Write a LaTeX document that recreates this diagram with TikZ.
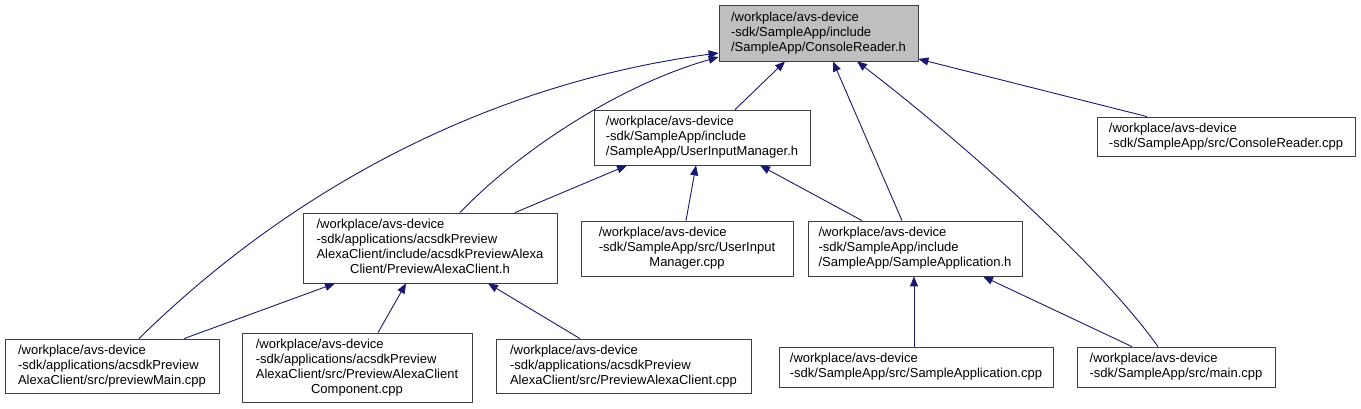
\documentclass[tikz,border=0pt]{standalone}
\usepackage{fontspec}
\setmainfont{Liberation Sans}
\usetikzlibrary{arrows.meta}
\definecolor{edgeblue}{HTML}{191970}
\definecolor{rootgray}{HTML}{BFBFBF}
\newcommand{\dxlines}[1]{\begin{tabular}{@{}l@{}}#1\end{tabular}}
\newcommand{\dxlast}[1]{\multicolumn{1}{@{}c@{}}{#1}}
\begin{document}
\begin{tikzpicture}[x=1pt,y=-1pt,
  box/.style={draw=black!75, line width=0.8pt, fill=white, inner sep=0pt,
    font=\fontsize{13}{15}\selectfont},
  rootbox/.style={box, fill=rootgray},
  edge/.style={draw=edgeblue, line width=0.9pt, -{Triangle[length=10pt,width=8pt]}}]
\path[use as bounding box, fill=white] (0,0) rectangle (1361,408);

\node[rootbox, minimum width=199pt, minimum height=56pt] (crh) at (818.5,33)
  {\dxlines{/workplace/avs-device\\-sdk/SampleApp/include\\/SampleApp/ConsoleReader.h}};
\node[box, minimum width=216pt, minimum height=55pt] (uimh) at (702,137.5)
  {\dxlines{/workplace/avs-device\\-sdk/SampleApp/include\\/SampleApp/UserInputManager.h}};
\node[box, minimum width=258pt, minimum height=39pt] (crcpp) at (1226,136.5)
  {\dxlines{/workplace/avs-device\\-sdk/SampleApp/src/ConsoleReader.cpp}};
\node[box, minimum width=254pt, minimum height=70pt] (pach) at (430,248)
  {\dxlines{/workplace/avs-device\\-sdk/applications/acsdkPreview\\AlexaClient/include/acsdkPreviewAlexa\\\dxlast{Client/PreviewAlexaClient.h}}};
\node[box, minimum width=212pt, minimum height=55pt] (uimcpp) at (687,248.5)
  {\dxlines{/workplace/avs-device\\-sdk/SampleApp/src/UserInput\\\dxlast{Manager.cpp}}};
\node[box, minimum width=214pt, minimum height=55pt] (sah) at (915,248.5)
  {\dxlines{/workplace/avs-device\\-sdk/SampleApp/include\\/SampleApp/SampleApplication.h}};
\node[box, minimum width=214pt, minimum height=54pt] (prevmain) at (112,366)
  {\dxlines{/workplace/avs-device\\-sdk/applications/acsdkPreview\\AlexaClient/src/previewMain.cpp}};
\node[box, minimum width=230pt, minimum height=69pt] (pacc) at (357,367.5)
  {\dxlines{/workplace/avs-device\\-sdk/applications/acsdkPreview\\AlexaClient/src/PreviewAlexaClient\\\dxlast{Component.cpp}}};
\node[box, minimum width=255pt, minimum height=54pt] (paccpp) at (623.5,366)
  {\dxlines{/workplace/avs-device\\-sdk/applications/acsdkPreview\\AlexaClient/src/PreviewAlexaClient.cpp}};
\node[box, minimum width=274pt, minimum height=40pt] (sacpp) at (916,367)
  {\dxlines{/workplace/avs-device\\-sdk/SampleApp/src/SampleApplication.cpp}};
\node[box, minimum width=198pt, minimum height=40pt] (maincpp) at (1176,367)
  {\dxlines{/workplace/avs-device\\-sdk/SampleApp/src/main.cpp}};

% edges to ConsoleReader.h
\draw[edge] ([xshift=27pt]prevmain.north) .. controls (285,195) and (480,85) .. ([yshift=-20pt]crh.west);
\draw[edge] ([xshift=30pt]pach.north) .. controls (520,150) and (620,85) .. ([yshift=-24pt]crh.west);
\draw[edge] ([xshift=33pt]uimh.north) -- ([xshift=-33.5pt]crh.south);
\draw[edge] ([xshift=-13pt]sah.north) -- ([xshift=14.5pt]crh.south);
\draw[edge] ([xshift=-18pt]maincpp.north) .. controls (1100,265) and (960,140) .. ([xshift=38.5pt]crh.south);
\draw[edge] ([xshift=-79pt]crcpp.north) -- ([yshift=-26pt]crh.east);
% edges to UserInputManager.h
\draw[edge] ([xshift=85pt]pach.north) -- ([xshift=-75pt]uimh.south);
\draw[edge] ([xshift=-1pt]uimcpp.north) -- ([xshift=-6pt]uimh.south);
\draw[edge] ([xshift=-53pt]sah.north) -- ([xshift=58pt]uimh.south);
% edges to PreviewAlexaClient.h
\draw[edge] ([xshift=72pt]prevmain.north) -- ([xshift=-95pt]pach.south);
\draw[edge] ([xshift=21pt]pacc.north) -- ([xshift=-24pt]pach.south);
\draw[edge] ([xshift=-43.5pt]paccpp.north) -- ([xshift=58pt]pach.south);
% edges to SampleApplication.h
\draw[edge] ([xshift=-2pt]sacpp.north) -- ([xshift=-1pt]sah.south);
\draw[edge] ([xshift=-44pt]maincpp.north) -- ([xshift=68pt]sah.south);
\end{tikzpicture}
\end{document}
